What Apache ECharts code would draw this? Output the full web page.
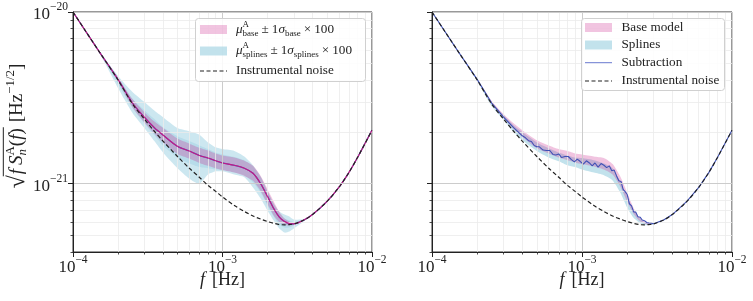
<!DOCTYPE html>
<html><head><meta charset="utf-8">
<script src="https://cdn.jsdelivr.net/npm/echarts@6/dist/echarts.min.js"></script>
<style>html,body{margin:0;padding:0;background:#fff}#c{width:753px;height:301px}</style>
</head><body><div id="c"></div>
<script>
// ---------- DATA (values in units of 1e-21 Hz^-1/2) ----------
const freqs = [1e-4,1.5e-4,2e-4,2.5e-4,3e-4,3.5e-4,4e-4,5e-4,6e-4,7e-4,8e-4,9e-4,1e-3,1.2e-3,1.4e-3,1.6e-3,1.8e-3,2e-3,2.2e-3,2.4e-3,2.6e-3,2.8e-3,3e-3,3.5e-3,4e-3,5e-3,6e-3,7e-3,8e-3,1e-2];
const noiseE21 = [10,5.86,4.02,2.91,2.38,2.02,1.77,1.44,1.23,1.09,0.977,0.902,0.837,0.746,0.689,0.648,0.622,0.602,0.588,0.578,0.576,0.578,0.583,0.614,0.661,0.788,0.951,1.16,1.42,2.05];
const baseMeanE21 = [10,5.86,4.05,2.95,2.44,2.12,1.92,1.65,1.55,1.46,1.41,1.36,1.32,1.28,1.23,1.15,1.00,0.843,0.717,0.639,0.602,0.586,0.583,0.614,0.661,0.788,0.951,1.16,1.42,2.05];
// left panel bands (x100 sigma)
const baseUpL = [10,5.86,4.16,3.11,2.61,2.30,2.11,1.83,1.71,1.62,1.56,1.50,1.46,1.42,1.36,1.27,1.11,0.932,0.788,0.684,0.627,0.602,0.591,0.614];
const baseLoL = [10,5.86,3.94,2.79,2.28,1.96,1.74,1.49,1.40,1.32,1.27,1.23,1.20,1.16,1.11,1.04,0.908,0.762,0.653,0.598,0.578,0.570,0.576,0.614];
const splOuterUpL = [10,5.94,4.24,3.42,2.99,2.67,2.44,2.11,2.02,1.93,1.74,1.63,1.59,1.55,1.44,1.28,1.10,0.902,0.767,0.689,0.661,0.644,0.618,0.618];
const splOuterLoL = [10,5.78,3.61,2.58,2.11,1.77,1.52,1.23,1.07,1.00,1.13,1.18,1.18,1.13,1.09,0.951,0.820,0.698,0.610,0.548,0.519,0.526,0.548,0.602];
const splInnerUpL = [10,5.86,4.13,3.11,2.68,2.38,2.13,1.89,1.77,1.67,1.59,1.52,1.48,1.43,1.37,1.26,1.09,0.902,0.757,0.670,0.627,0.610,0.598,0.614];
const splInnerLoL = [10,5.86,3.81,2.76,2.25,1.92,1.67,1.42,1.31,1.25,1.23,1.21,1.20,1.16,1.12,1.018,0.889,0.746,0.644,0.578,0.555,0.555,0.570,0.610];
// right panel bands
const baseUpR = [10,5.86,4.07,3.03,2.54,2.25,2.05,1.79,1.67,1.59,1.55,1.50,1.48,1.44,1.41,1.30,1.10,0.889,0.727,0.639,0.606,0.590,0.586,0.614];
const baseLoR = [10,5.86,4.02,2.91,2.41,2.08,1.87,1.61,1.50,1.42,1.37,1.33,1.30,1.26,1.21,1.13,0.964,0.788,0.670,0.610,0.586,0.578,0.582,0.614];
const splUpR = [10,5.86,4.07,2.99,2.51,2.19,2.00,1.74,1.61,1.52,1.46,1.42,1.41,1.37,1.31,1.23,1.03,0.843,0.707,0.635,0.598,0.586,0.586,0.614];
const splLoR = [10,5.86,3.97,2.83,2.35,2.00,1.79,1.55,1.42,1.35,1.28,1.25,1.21,1.16,1.12,1.045,0.889,0.727,0.635,0.594,0.574,0.574,0.578,0.614];
// subtraction (right panel)
const subFreqs = [1e-4,1.5e-4,2e-4,2.5e-4,3e-4,3.5e-4,
 4.0e-4,4.2e-4,4.4e-4,4.6e-4,4.8e-4,5.0e-4,5.2e-4,5.5e-4,5.8e-4,6.1e-4,6.4e-4,6.7e-4,7.0e-4,7.3e-4,7.7e-4,8.1e-4,8.5e-4,8.9e-4,9.3e-4,9.7e-4,
 1.02e-3,1.07e-3,1.12e-3,1.17e-3,1.22e-3,1.28e-3,1.34e-3,1.40e-3,1.46e-3,1.52e-3,1.58e-3,1.64e-3,1.70e-3,1.76e-3,1.82e-3,1.88e-3,1.94e-3,2.00e-3,2.07e-3,2.14e-3,2.21e-3,2.28e-3,2.36e-3,2.44e-3,2.52e-3,2.61e-3,2.70e-3,2.80e-3,2.90e-3,3.00e-3,
 3.5e-3,4e-3,5e-3,6e-3,7e-3,8e-3,1e-2];
const subE21 = [10,5.86,4.05,2.95,2.44,2.12,
 1.90,1.85,1.78,1.76,1.67,1.64,1.64,1.57,1.56,1.56,1.48,1.47,1.49,1.42,1.44,1.44,1.38,1.34,1.39,1.35,
 1.30,1.36,1.32,1.27,1.32,1.25,1.31,1.28,1.24,1.27,1.19,1.20,1.11,1.04,1.03,0.926,0.899,0.865,0.764,0.742,0.685,0.683,0.642,0.638,0.614,0.609,0.594,0.590,0.588,0.584,
 0.614,0.661,0.788,0.951,1.16,1.42,2.05];
// axis ticks
const xMajorTicks = [1e-4,1e-3,1e-2];
const xMinorTicks = [2e-4,3e-4,4e-4,5e-4,6e-4,7e-4,8e-4,9e-4,2e-3,3e-3,4e-3,5e-3,6e-3,7e-3,8e-3,9e-3];
const yMajorTicks = [1e-21,1e-20];
const yMinorTicks = [4e-22,5e-22,6e-22,7e-22,8e-22,9e-22,2e-21,3e-21,4e-21,5e-21,6e-21,7e-21,8e-21,9e-21];
const legendLeft = ['Instrumental noise'];
const legendRight = ['Base model','Splines','Subtraction','Instrumental noise'];

// ---------- helpers ----------
const SERIF = '"Liberation Serif","DejaVu Serif",serif';
const INK = '#222';
const E21 = 1e-21;
const pairs = (f, v) => v.map((y, i) => [f[i], y * E21]);

const C_PINK = 'rgba(199,21,133,0.25)';
const C_BLUE = 'rgba(173,216,230,0.62)';
const C_BLUE_IN = 'rgba(140,195,222,0.32)';
const C_BLUE_R = 'rgba(173,216,230,0.75)';
const C_MEAN = '#c71585';
const C_SUB = '#3f51b5';

function band(ai, f, up, lo, fill) {
  const n = Math.min(up.length, lo.length);
  const data = [];
  for (let i = 0; i < n; i++) data.push([f[i], up[i] * E21, lo[i] * E21]);
  return {
    type: 'custom', xAxisIndex: ai, yAxisIndex: ai, data, silent: true, clip: true,
    encode: { x: 0, y: [1, 2] },
    renderItem(params, api) {
      if (params.dataIndex !== 0) return null;
      const top = [], bot = [];
      for (let i = 0; i < n; i++) {
        top.push(api.coord([data[i][0], data[i][1]]));
        bot.push(api.coord([data[i][0], data[i][2]]));
      }
      return { type: 'polygon', shape: { points: top.concat(bot.reverse()), smooth: 0.2 }, style: { fill } };
    }
  };
}
function line(ai, f, v, color, width, dash, smooth, z) {
  return { type: 'line', xAxisIndex: ai, yAxisIndex: ai, data: pairs(f, v), symbol: 'none', showSymbol: false,
    smooth: smooth, silent: true, z: z || 3, clip: true,
    lineStyle: { color, width, type: dash || 'solid' } };
}

const supFmt = v => {
  const e = Math.round(Math.log10(v));
  return '{b|10}{s|\u2212' + Math.abs(e) + '}';
};
const richLab = {
  b: { fontFamily: SERIF, fontSize: 17, lineHeight: 22, verticalAlign: 'bottom', color: INK },
  s: { fontFamily: SERIF, fontSize: 11.5, lineHeight: 10, verticalAlign: 'top', color: INK }
};

function xAxes(grid) {
  return [
    { type: 'log', logBase: 10, gridIndex: grid, min: 1e-4, max: 1e-2, position: 'bottom', z: 5,
      axisLine: { show: true, lineStyle: { color: INK, width: 1 } },
      axisTick: { show: true, inside: false, length: 5, lineStyle: { color: INK, width: 1 }, customValues: xMajorTicks },
      axisLabel: { show: true, customValues: xMajorTicks, formatter: supFmt, rich: richLab, margin: 2, color: INK },
      splitLine: { show: true, lineStyle: { color: '#cccccc', width: 1 } },
      minorTick: { show: false }, minorSplitLine: { show: false },
      name: '{i|f}[Hz]', nameLocation: 'middle', nameGap: 19, nameMoveOverlap: false,
      nameTextStyle: { fontFamily: SERIF, fontSize: 18, color: INK, rich: { i: { fontFamily: SERIF, fontSize: 18, fontStyle: 'italic', color: INK, padding: [0, 7, 0, 0] } } }
    },
    { type: 'log', logBase: 10, gridIndex: grid, min: 1e-4, max: 1e-2, position: 'bottom', z: 4,
      axisLine: { show: false },
      axisTick: { show: true, inside: false, length: 2.5, lineStyle: { color: INK, width: 0.8 }, customValues: xMinorTicks },
      axisLabel: { show: false },
      splitLine: { show: true, lineStyle: { color: '#ebebeb', width: 0.8 } },
      minorTick: { show: false }, minorSplitLine: { show: false }
    }
  ];
}
function yAxes(grid, labels) {
  return [
    { type: 'log', logBase: 10, gridIndex: grid, min: 4e-22, max: 1e-20, position: 'left', z: 5,
      axisLine: { show: true, lineStyle: { color: INK, width: 1 } },
      axisTick: { show: true, inside: false, length: 5, lineStyle: { color: INK, width: 1 }, customValues: yMajorTicks },
      axisLabel: { show: labels, customValues: yMajorTicks, formatter: supFmt, rich: richLab, margin: 5, color: INK },
      splitLine: { show: true, lineStyle: { color: '#cccccc', width: 1 } },
      minorTick: { show: false }, minorSplitLine: { show: false }
    },
    { type: 'log', logBase: 10, gridIndex: grid, min: 4e-22, max: 1e-20, position: 'left', z: 4,
      axisLine: { show: false },
      axisTick: { show: true, inside: false, length: 2.5, lineStyle: { color: INK, width: 0.8 }, customValues: yMinorTicks },
      axisLabel: { show: false },
      splitLine: { show: true, lineStyle: { color: '#ebebeb', width: 0.8 } },
      minorTick: { show: false }, minorSplitLine: { show: false }
    }
  ];
}

// text measuring for math-like labels
const mctx = document.createElement('canvas').getContext('2d');
const fontStr = (size, it) => (it ? 'italic ' : '') + size + 'px ' + SERIF;
function tw(t, size, it) { mctx.font = fontStr(size, it); return mctx.measureText(t).width; }
function txt(x, y, t, size, it, fill) {
  return { type: 'text', x, y, z: 101, silent: true,
    style: { text: t, font: fontStr(size, it), fill: fill || INK, align: 'left', verticalAlign: 'middle' } };
}
function mathRow(x, y, parts, size) {
  const els = []; const ss = size * 0.68;
  for (const p of parts) {
    if (p.t !== undefined) { const s = p.size || size; els.push(txt(x, y + (p.dy || 0), p.t, s, p.it)); x += tw(p.t, s, p.it); }
    else if (p.sp !== undefined) { x += p.sp; }
    else if (p.mark) { p.mark.x = x; }
    else {
      let w = 0;
      if (p.sup) { els.push(txt(x, y - size * 0.36, p.sup, ss, p.supIt)); w = Math.max(w, tw(p.sup, ss, p.supIt)); }
      if (p.sub) { els.push(txt(x, y + size * 0.30, p.sub, ss, p.subIt)); w = Math.max(w, tw(p.sub, ss, p.subIt)); }
      x += w;
    }
  }
  return { els, x };
}

// ---------- legends ----------
const LS = 13.2;
const graphics = [];
// left legend
graphics.push({ type: 'rect', z: 100, silent: true, shape: { x: 195.5, y: 18.5, width: 170, height: 63, r: 3 },
  style: { fill: 'rgba(255,255,255,0.85)', stroke: '#d0d0d0', lineWidth: 1 } });
graphics.push({ type: 'rect', z: 101, silent: true, shape: { x: 200, y: 25, width: 27, height: 9 }, style: { fill: C_PINK } });
graphics.push({ type: 'rect', z: 101, silent: true, shape: { x: 200, y: 46.5, width: 27, height: 9 }, style: { fill: C_BLUE_R } });
graphics.push({ type: 'line', z: 101, silent: true, shape: { x1: 200, y1: 71, x2: 227, y2: 71 }, style: { stroke: INK, lineWidth: 1.2, lineDash: [4, 2.5] } });
let r1 = mathRow(236, 29.5, [{ t: '\u03bc', it: true }, { sup: 'A', sub: 'base' }, { sp: 3 }, { t: '\u00b1' }, { sp: 3 }, { t: '1' }, { t: '\u03c3', it: true }, { sub: 'base' }, { sp: 3 }, { t: '\u00d7' }, { sp: 3 }, { t: '100' }], LS);
let r2 = mathRow(236, 50.5, [{ t: '\u03bc', it: true }, { sup: 'A', sub: 'splines' }, { sp: 3 }, { t: '\u00b1' }, { sp: 3 }, { t: '1' }, { t: '\u03c3', it: true }, { sub: 'splines' }, { sp: 3 }, { t: '\u00d7' }, { sp: 3 }, { t: '100' }], LS);
graphics.push(...r1.els, ...r2.els);
graphics.push(txt(236, 71, legendLeft[0], LS, false));
// right legend
graphics.push({ type: 'rect', z: 100, silent: true, shape: { x: 581.5, y: 18.5, width: 143, height: 72, r: 3 },
  style: { fill: 'rgba(255,255,255,0.85)', stroke: '#d0d0d0', lineWidth: 1 } });
graphics.push({ type: 'rect', z: 101, silent: true, shape: { x: 585, y: 23, width: 27, height: 9 }, style: { fill: C_PINK } });
graphics.push({ type: 'rect', z: 101, silent: true, shape: { x: 585, y: 40.5, width: 27, height: 9 }, style: { fill: C_BLUE_R } });
graphics.push({ type: 'line', z: 101, silent: true, shape: { x1: 585, y1: 62.7, x2: 612, y2: 62.7 }, style: { stroke: '#6a7bd0', lineWidth: 1 } });
graphics.push({ type: 'line', z: 101, silent: true, shape: { x1: 585, y1: 81, x2: 612, y2: 81 }, style: { stroke: INK, lineWidth: 1.2, lineDash: [4, 2.5] } });
[27.5, 45, 62.7, 81].forEach((yy, i) => graphics.push(txt(621.5, yy, legendRight[i], LS, false)));

// ---------- y-axis title (rotated) ----------
const YS = 19;
const mk1 = {}, mk2 = {};
const yt = mathRow(0, 0, [
  { t: '\u221a', size: YS * 1.25, dy: 1 }, { mark: mk1 }, { sp: 1 },
  { t: 'f', it: true }, { sp: 4 }, { t: 'S', it: true }, { sup: 'A', sub: 'n', subIt: true },
  { t: '(' }, { t: 'f', it: true }, { t: ')' }, { mark: mk2 }, { sp: 6 },
  { t: '[Hz' }, { sup: '\u22121/2' }, { t: ']' }
], YS);
const ytChildren = yt.els.concat([{ type: 'line', z: 101, silent: true,
  shape: { x1: mk1.x - 1, y1: -YS * 0.72, x2: mk2.x + 1, y2: -YS * 0.72 }, style: { stroke: INK, lineWidth: 1 } }]);
graphics.push({ type: 'group', x: 17, y: 126 + yt.x / 2, rotation: Math.PI / 2, children: ytChildren, z: 101 });

// ---------- chart ----------
const chart = echarts.init(document.getElementById('c'), null, { renderer: 'canvas' });
const option = {
  animation: false,
  backgroundColor: '#ffffff',
  grid: [
    { left: 73, top: 12, width: 299, height: 240, show: true, borderColor: '#333', borderWidth: 1, backgroundColor: 'transparent', containLabel: false },
    { left: 432, top: 12, width: 300, height: 240, show: true, borderColor: '#333', borderWidth: 1, backgroundColor: 'transparent', containLabel: false }
  ],
  xAxis: [...xAxes(0), ...xAxes(1)],
  yAxis: [...yAxes(0, true), ...yAxes(1, false)],
  series: [
    // left panel
    band(0, freqs, splOuterUpL, splOuterLoL, C_BLUE),
    band(0, freqs, splInnerUpL, splInnerLoL, C_BLUE_IN),
    band(0, freqs, baseUpL, baseLoL, C_PINK),
    line(0, freqs, baseMeanE21, '#4a6fc0', 1.3, 'solid', 0.3, 3),
    line(0, freqs, baseMeanE21, C_MEAN, 1.1, 'solid', 0.3, 4),
    line(0, freqs, noiseE21, INK, 1.2, [4, 2.5], 0.3, 5),
    // right panel
    band(2, freqs, splUpR, splLoR, C_BLUE_R),
    band(2, freqs, baseUpR, baseLoR, C_PINK),
    line(2, subFreqs, subE21, C_SUB, 1.1, 'solid', false, 4),
    line(2, freqs, noiseE21, INK, 1.2, [4, 2.5], 0.3, 5)
  ],
  graphic: { elements: graphics }
};
chart.setOption(option);
</script>
</body></html>
